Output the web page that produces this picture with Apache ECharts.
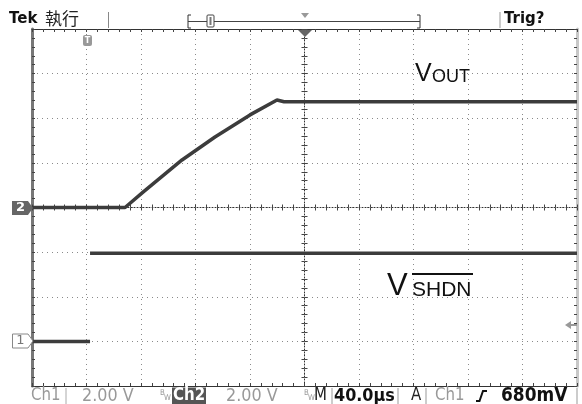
<!DOCTYPE html>
<html lang="en">
<head>
    <meta charset="UTF-8">
    <title>Tek scope capture</title>
    <style>
        body {
            margin: 0;
            background: #fff;
        }
        #chart {
            width: 582px;
            height: 404px;
        }
    </style>
</head>
<body>
    <div id="chart"></div>
    <script src="https://cdn.jsdelivr.net/npm/echarts@6/dist/echarts.min.js"></script>
    <script>
        // time in µs (0 = screen centre), voltage in V
        const ch1Time = [-200, -157.4, -157.4, -157.4, 200];
        const ch1Volts = [0, 0, null, 3.95, 3.95];
        const ch2Time = [-200, -131.7, -118.5, -89.9, -65.7, -40.0, -20.2, -15, 200];
        const ch2Volts = [0, 0, 0.69, 2.13, 3.16, 4.15, 4.82, 4.74, 4.74];

        const voltsPerDiv = 2;
        const ch1Pos = -3; // divisions
        const ch2Pos = 0;

        const toDiv = (times, volts, pos) => times.map((t, i) =>
            volts[i] === null ? [t, '-'] : [t, volts[i] / voltsPerDiv + pos]);

        const G = { left: 32, top: 29, width: 545, height: 357 };
        const sans = '"DejaVu Sans"';
        const arial = '"Liberation Sans"';

        function xAx(position, offset, lineShow, split) {
            return {
                type: 'value', min: -200, max: 200, interval: 40, position: position, offset: offset,
                axisLabel: { show: false },
                axisLine: { show: lineShow, onZero: false,
                    lineStyle: { color: '#333', width: 1, type: offset ? [1, 2] : 'solid' } },
                axisTick: { show: true, inside: true, length: 3, lineStyle: { color: '#444' } },
                minorTick: { show: true, splitNumber: 5, length: 3, lineStyle: { color: '#444' } },
                splitLine: { show: split, lineStyle: { color: '#8a8a8a', type: [1, 4] } }
            };
        }
        function yAx(position, offset, line, split) {
            return {
                type: 'value', min: -4, max: 4, interval: 1, position: position, offset: offset,
                axisLabel: { show: false },
                axisLine: { show: !!line, onZero: false, lineStyle: line || {} },
                axisTick: { show: true, inside: true, length: 3, lineStyle: { color: '#444' } },
                minorTick: { show: true, splitNumber: 5, length: 3, lineStyle: { color: '#444' } },
                splitLine: { show: split, lineStyle: { color: '#8a8a8a', type: [1, 4] } }
            };
        }

        const txt = (text, x, y, font, fill, align) => ({
            type: 'text', z: 100,
            style: { text: text, x: x, y: y, font: font, fill: fill || '#111',
                textAlign: align || 'left', textVerticalAlign: 'middle' }
        });
        const vbar = (x, y1, y2, c) => ({
            type: 'line', z: 100, shape: { x1: x, y1: y1, x2: x, y2: y2 },
            style: { stroke: c || '#999', lineWidth: 1 }
        });

        const chart = echarts.init(document.getElementById('chart'));
        chart.setOption({
            animation: false,
            grid: { left: G.left, top: G.top, width: G.width, height: G.height, show: false },
            xAxis: [
                xAx('bottom', 0, true, true),
                xAx('top', 0, true, false),
                xAx('top', -G.height / 2, true, false),
                xAx('bottom', -G.height / 2, false, false)
            ],
            yAxis: [
                yAx('left', 0, { color: '#777', width: 3 }, true),
                yAx('right', 0, { color: '#c8c8c8', width: 3 }, false),
                yAx('left', -G.width / 2, { color: '#333', width: 1, type: [1, 2] }, false),
                yAx('right', -G.width / 2, null, false)
            ],
            series: [
                {
                    type: 'line', xAxisIndex: 0, yAxisIndex: 0, showSymbol: false, symbol: 'none',
                    data: toDiv(ch1Time, ch1Volts, ch1Pos), connectNulls: false, z: 5,
                    lineStyle: { color: '#3c3c3c', width: 3.5 }
                },
                {
                    type: 'line', xAxisIndex: 0, yAxisIndex: 0, showSymbol: false, symbol: 'none',
                    data: toDiv(ch2Time, ch2Volts, ch2Pos), z: 5,
                    lineStyle: { color: '#3c3c3c', width: 3.5 }
                }
            ],
            graphic: [
                // header
                txt('Tek', 9, 19, 'bold 15px ' + sans, '#111'),
                txt('執行', 45, 19, '17px "Noto Sans CJK TC"', '#222'),
                vbar(108.5, 12, 28, '#888'),
                { type: 'polyline', z: 100, shape: { points: [[191, 15], [188, 15], [188, 28], [191, 28]] },
                  style: { stroke: '#333', lineWidth: 1, fill: null } },
                { type: 'polyline', z: 100, shape: { points: [[417, 15], [420, 15], [420, 28], [417, 28]] },
                  style: { stroke: '#333', lineWidth: 1, fill: null } },
                { type: 'line', z: 100, shape: { x1: 188, y1: 21.5, x2: 420, y2: 21.5 },
                  style: { stroke: '#444', lineWidth: 1 } },
                { type: 'rect', z: 101, shape: { x: 207, y: 15, width: 7, height: 12, r: 1 },
                  style: { fill: '#fff', stroke: '#444', lineWidth: 1 } },
                { type: 'line', z: 102, shape: { x1: 210.5, y1: 17, x2: 210.5, y2: 25 },
                  style: { stroke: '#777', lineWidth: 2 } },
                { type: 'polygon', z: 100, shape: { points: [[301, 13], [309, 13], [305, 18]] },
                  style: { fill: '#999' } },
                vbar(500, 12, 28, '#999'),
                txt('Trig?', 504, 19, 'bold 15px ' + sans, '#111'),

                // top markers on graticule
                { type: 'polygon', z: 100, shape: { points: [[298, 30], [312, 30], [305, 37]] },
                  style: { fill: '#666' } },
                { type: 'rect', z: 100, shape: { x: 83, y: 35, width: 9, height: 11, r: 2 },
                  style: { fill: '#999' } },
                txt('T', 87.5, 41, 'bold 8px ' + sans, '#fff', 'center'),

                // channel ground markers
                { type: 'polygon', z: 100,
                  shape: { points: [[12, 201], [28, 201], [33, 208], [28, 215], [12, 215]] },
                  style: { fill: '#666' } },
                txt('2', 20.5, 208, 'bold 13px ' + sans, '#fff', 'center'),
                { type: 'polygon', z: 100,
                  shape: { points: [[12.5, 334], [28, 334], [33, 341], [28, 348], [12.5, 348]] },
                  style: { fill: '#fff', stroke: '#888', lineWidth: 1 } },
                txt('1', 20.5, 341, '13px ' + sans, '#777', 'center'),

                // trigger level arrow
                { type: 'polygon', z: 100, shape: { points: [[565, 325], [571, 321], [571, 329]] },
                  style: { fill: '#999' } },
                { type: 'line', z: 100, shape: { x1: 570, y1: 325, x2: 577, y2: 325 },
                  style: { stroke: '#999', lineWidth: 2 } },

                // trace labels
                txt('V', 415, 74, '25px ' + arial, '#111'),
                txt('OUT', 432, 77, '18px ' + arial, '#111'),
                txt('V', 387, 286, '31px ' + arial, '#111'),
                txt('SHDN', 412, 290, '21px ' + arial, '#111'),
                { type: 'line', z: 100, shape: { x1: 412, y1: 274, x2: 473, y2: 274 },
                  style: { stroke: '#111', lineWidth: 2 } },

                // status bar
                {
                    type: 'group', z: 100, scaleY: 1.15, originY: 396,
                    children: [
                        txt('Ch1', 31, 396, '15px ' + sans, '#999'),
                        txt('2.00 V', 82, 396, '16px ' + sans, '#999'),
                        txt('B', 160, 393, '7px ' + sans, '#999'),
                        txt('W', 164, 398, '7px ' + sans, '#999'),
                        { type: 'rect', z: 100, shape: { x: 172, y: 388.5, width: 34, height: 15 },
                          style: { fill: '#555' } },
                        txt('Ch2', 189, 396, 'bold 15px ' + sans, '#fff', 'center'),
                        txt('2.00 V', 226, 396, '16px ' + sans, '#999'),
                        txt('B', 304, 393, '7px ' + sans, '#999'),
                        txt('W', 308, 398, '7px ' + sans, '#999'),
                        txt('M', 314, 396, '15px ' + sans, '#222'),
                        txt('40.0µs', 334, 396, 'bold 16px ' + sans, '#111'),
                        txt('A', 411, 396, '15px ' + sans, '#222'),
                        txt('Ch1', 435, 396, '15px ' + sans, '#999'),
                        txt('680mV', 501, 396, 'bold 17px ' + sans, '#111')
                    ]
                },
                vbar(66, 388, 404, '#aaa'),
                vbar(332, 388, 404, '#999'),
                vbar(398, 388, 404, '#999'),
                vbar(426, 388, 404, '#999'),
                { type: 'polyline', z: 100, shape: { points: [[476, 401], [479.5, 401], [483, 391], [487, 391]] },
                  style: { stroke: '#111', lineWidth: 2, fill: null } },
                vbar(577, 388, 404, '#999')
            ]
        });
    </script>
</body>
</html>
